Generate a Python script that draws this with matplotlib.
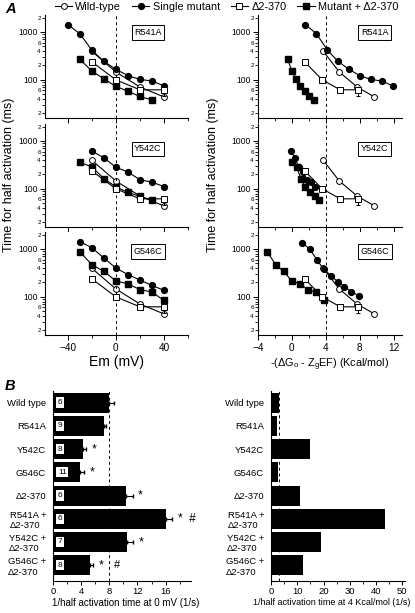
import matplotlib.pyplot as plt
from matplotlib.lines import Line2D
from matplotlib.ticker import LogLocator, FuncFormatter, MultipleLocator
import numpy as np

plt.rcParams['font.family'] = ['Liberation Sans', 'DejaVu Sans']
plt.rcParams['mathtext.fontset'] = 'custom'
plt.rcParams['mathtext.rm'] = 'Liberation Sans'
plt.rcParams['mathtext.it'] = 'Liberation Sans:italic'

mutants = ["R541A", "Y542C", "G546C"]

# wild-type and delta2-370 controls (same in every panel)
wt_em = [-20, 0, 20, 40]
wt_t = [395, 146, 71, 44]
wt_dg = [3.7, 5.6, 7.7, 9.75]
d2_em = [-20, 0, 20, 40]
d2_t = [238, 100, 62, 62]
d2_err = [0, 0, 0, 15]
d2_dg = [1.5, 3.6, 5.7, 7.8]

# single mutants
single_em = {
    "R541A": [-40, -30, -20, -10, 0, 10, 20, 30, 40],
    "Y542C": [-20, -10, 0, 10, 20, 30, 40],
    "G546C": [-30, -20, -10, 0, 10, 20, 30, 40],
}
single_t = {
    "R541A": [1420, 920, 417, 243, 166, 123, 102, 95, 75],
    "Y542C": [615, 445, 282, 225, 155, 138, 112],
    "G546C": [1425, 1062, 646, 400, 292, 225, 173, 137],
}
single_dg = {
    "R541A": [1.6, 2.9, 4.2, 5.45, 6.75, 8.0, 9.3, 10.6, 11.9],
    "Y542C": [-0.08, 0.35, 0.82, 1.33, 1.8, 2.31, 2.78],
    "G546C": [1.2, 2.1, 2.94, 3.76, 4.6, 5.4, 6.2, 7.0, 7.9],
}
single_t_dg = {
    "R541A": single_t["R541A"],
    "Y542C": single_t["Y542C"],
    "G546C": [1350, 1000, 600, 376, 279, 208, 164, 129, 105],
}

# mutant + delta2-370
combo_em = {
    "R541A": [-30, -20, -10, 0, 10, 20, 30],
    "Y542C": [-30, -20, -10, 0, 10, 20, 30],
    "G546C": [-30, -20, -10, 0, 10, 20, 30, 40],
}
combo_t = {
    "R541A": [268, 153, 105, 73, 58, 45, 38],
    "Y542C": [360, 286, 164, 110, 84, 70, 58],
    "G546C": [870, 470, 340, 215, 187, 142, 126, 84],
}
combo_dg = {
    "R541A": [-0.5, 0, 0.5, 1.0, 1.53, 2.04, 2.6],
    "Y542C": [0.04, 0.55, 1.06, 1.57, 2.16, 2.7, 3.2],
    "G546C": [-2.9, -1.92, -0.98, 0, 0.94, 1.88, 2.82, 3.76],
}

# panel B
bar_labels = ["Wild type", "R541A", "Y542C", "G546C", "\u03942-370",
              "R541A +\n\u03942-370", "Y542C +\n\u03942-370", "G546C +\n\u03942-370"]
rate_0mv = [8.0, 7.2, 4.3, 3.9, 10.4, 16.0, 10.5, 5.3]
rate_0mv_err = [0.6, 0.3, 0.4, 0.5, 0.9, 0.9, 0.9, 0.4]
n_cells = [6, 9, 8, 11, 6, 6, 7, 8]
stars = ["", "", "*", "*", "*", "*  #", "*", "*"]
rate_4kcal = [3.0, 2.2, 14.8, 2.7, 10.9, 43.3, 19.1, 12.3]

fig = plt.figure(figsize=(4.15, 6.13), dpi=100)

W, H = 415, 613
def box(x0, y0, x1, y1):
    return [x0 / W, 1 - y1 / H, (x1 - x0) / W, (y1 - y0) / H]

tops = [15, 124, 232]
ms = 4.2
lw = 0.8

def minor_fmt(v, pos):
    m = v / 10 ** np.floor(np.log10(v) + 1e-9)
    m = int(round(m))
    return str(m) if m in (2, 4, 6) else ""

def style_log(ax):
    ax.set_yscale('log')
    ax.set_ylim(16, 2260)
    ax.yaxis.set_major_locator(LogLocator(base=10, subs=[1.0]))
    ax.yaxis.set_major_formatter(FuncFormatter(lambda v, p: "%d" % v if v in (100, 1000) else ""))
    ax.yaxis.set_minor_locator(LogLocator(base=10, subs=[2, 3, 4, 5, 6, 7, 8, 9]))
    ax.yaxis.set_minor_formatter(FuncFormatter(minor_fmt))
    ax.tick_params(axis='y', which='major', labelsize=6.2, length=3.5, width=0.7, pad=1.5)
    ax.tick_params(axis='y', which='minor', labelsize=4.5, length=2, width=0.6, pad=1)
    ax.tick_params(axis='x', which='major', labelsize=7.2, length=3.5, width=0.7, pad=2)
    ax.tick_params(axis='x', which='minor', length=2.5, width=0.6)
    for s in ('top', 'right'):
        ax.spines[s].set_visible(False)
    for s in ('left', 'bottom'):
        ax.spines[s].set_linewidth(0.8)

for i, m in enumerate(mutants):
    axl = fig.add_axes(box(45, tops[i], 188, tops[i] + 103))
    axr = fig.add_axes(box(258, tops[i], 402, tops[i] + 103))
    for ax in (axl, axr):
        style_log(ax)

    axl.plot(wt_em, wt_t, '-o', color='k', mfc='white', ms=ms, lw=lw, mew=0.7)
    axl.errorbar(d2_em, d2_t, yerr=[d2_err, [0] * len(d2_err)], fmt='-s', color='k',
                 mfc='white', ms=ms, lw=lw, mew=0.7, capsize=1.5, elinewidth=0.7)
    axl.plot(single_em[m], single_t[m], '-o', color='k', ms=ms, lw=lw)
    axl.plot(combo_em[m], combo_t[m], '-s', color='k', ms=ms, lw=lw)
    axl.axvline(0, color='k', ls=(0, (3, 3)), lw=0.7)
    axl.set_xlim(-59, 60)
    axl.xaxis.set_major_locator(MultipleLocator(40))
    axl.xaxis.set_minor_locator(MultipleLocator(20))

    axr.plot(wt_dg, wt_t, '-o', color='k', mfc='white', ms=ms, lw=lw, mew=0.7)
    axr.errorbar(d2_dg, d2_t, yerr=[d2_err, [0] * len(d2_err)], fmt='-s', color='k',
                 mfc='white', ms=ms, lw=lw, mew=0.7, capsize=1.5, elinewidth=0.7)
    axr.plot(single_dg[m], single_t_dg[m], '-o', color='k', ms=ms, lw=lw)
    axr.plot(combo_dg[m], combo_t[m], '-s', color='k', ms=ms, lw=lw)
    axr.axvline(4, color='k', ls=(0, (3, 3)), lw=0.7)
    axr.set_xlim(-4, 13)
    axr.xaxis.set_major_locator(MultipleLocator(4))
    axr.xaxis.set_minor_locator(MultipleLocator(2))

    ypos = [0.83, 0.76, 0.81][i]
    for ax, xp in ((axl, 0.72), (axr, 0.81)):
        ax.text(xp, ypos, m, transform=ax.transAxes, ha='center', va='center', fontsize=6.5,
                bbox=dict(boxstyle='square,pad=0.3', fc='white', ec='k', lw=0.7))

    if i < 2:
        axl.tick_params(axis='x', labelbottom=False)
        axr.tick_params(axis='x', labelbottom=False)
    else:
        axl.set_xlabel("Em (mV)", fontsize=10, labelpad=2)
        axr.set_xlabel(r"-($\Delta$G$_{\rm o}$ - Z$_{\rm g}$EF) (Kcal/mol)", fontsize=7.8, labelpad=3)

fig.text(9 / W, 1 - 175 / H, "Time for half activation (ms)", rotation=90, ha='center', va='center', fontsize=9)
fig.text(213 / W, 1 - 175 / H, "Time for half activation (ms)", rotation=90, ha='center', va='center', fontsize=9)

handles = [
    Line2D([], [], color='k', marker='o', mfc='white', ms=ms, lw=lw, mew=0.7),
    Line2D([], [], color='k', marker='o', ms=ms, lw=lw),
    Line2D([], [], color='k', marker='s', mfc='white', ms=ms, lw=lw, mew=0.7),
    Line2D([], [], color='k', marker='s', ms=ms, lw=lw),
]
fig.legend(handles, ["Wild-type", "Single mutant", "\u03942-370", "Mutant + \u03942-370"],
           loc='center', bbox_to_anchor=(0.546, 1 - 7 / H), ncol=4, frameon=False, fontsize=7.8,
           handlelength=1.6, handletextpad=0.3, columnspacing=1.0, borderpad=0)

fig.text(5 / W, 1 - 9 / H, "A", fontsize=10.5, fontweight='bold', style='italic', va='center')
fig.text(5 / W, 1 - 386 / H, "B", fontsize=10.5, fontweight='bold', style='italic', va='center')

# panel B bars
ypos = np.arange(len(bar_labels))
bh = 0.86

def style_bar(ax):
    for s in ('top', 'right'):
        ax.spines[s].set_visible(False)
    ax.spines['left'].set_linewidth(0.8)
    ax.spines['bottom'].set_linewidth(0.8)
    ax.set_yticks(ypos)
    ax.set_yticklabels(bar_labels, fontsize=6.8, multialignment='left')
    ax.tick_params(axis='y', length=0, pad=5)
    ax.tick_params(axis='x', which='major', labelsize=6.8, length=3, width=0.7, pad=1.5)
    ax.tick_params(axis='x', which='minor', length=2, width=0.6)
    ax.set_ylim(7.68, -0.5)

axb1 = fig.add_axes(box(53, 391, 191, 581))
axb1.barh(ypos, rate_0mv, height=bh, color='k',
          xerr=[[0] * len(rate_0mv), rate_0mv_err], error_kw=dict(ecolor='k', elinewidth=0.8, capsize=1.5))
axb1.axvline(rate_0mv[0], color='k', ls=(0, (3, 3)), lw=0.7)
for y, n in zip(ypos, n_cells):
    axb1.text(0.7, y, str(n), ha='left', va='center', fontsize=6,
              bbox=dict(boxstyle='square,pad=0.2', fc='white', ec='none'))
for y, v, e, s in zip(ypos, rate_0mv, rate_0mv_err, stars):
    if y == 7:
        axb1.text(v + e + 0.8, y, "*", ha='left', va='center', fontsize=9)
        axb1.text(8.6, y, "#", ha='left', va='center', fontsize=8)
    elif s:
        axb1.text(v + e + 0.8, y, s, ha='left', va='center', fontsize=9 if s == "*" else 8.5)
axb1.set_xlim(0, 19.6)
axb1.xaxis.set_major_locator(MultipleLocator(4))
axb1.xaxis.set_minor_locator(MultipleLocator(2))
style_bar(axb1)
axb1.set_xlabel("1/half activation time at 0 mV (1/s)", fontsize=7)
axb1.xaxis.set_label_coords(0.53, -0.115)
axb1.xaxis.label.set_va('center')

axb2 = fig.add_axes(box(271, 391, 405, 581))
axb2.barh(ypos, rate_4kcal, height=bh, color='k')
axb2.axvline(rate_4kcal[0], color='k', ls=(0, (3, 3)), lw=0.7)
axb2.set_xlim(0, 51)
axb2.xaxis.set_major_locator(MultipleLocator(10))
axb2.xaxis.set_minor_locator(MultipleLocator(5))
style_bar(axb2)
axb2.set_xlabel("1/half activation time at 4 Kcal/mol (1/s)", fontsize=6.5)
axb2.xaxis.set_label_coords(0.455, -0.115)
axb2.xaxis.label.set_va('center')

fig.savefig("out.png", dpi=100)
